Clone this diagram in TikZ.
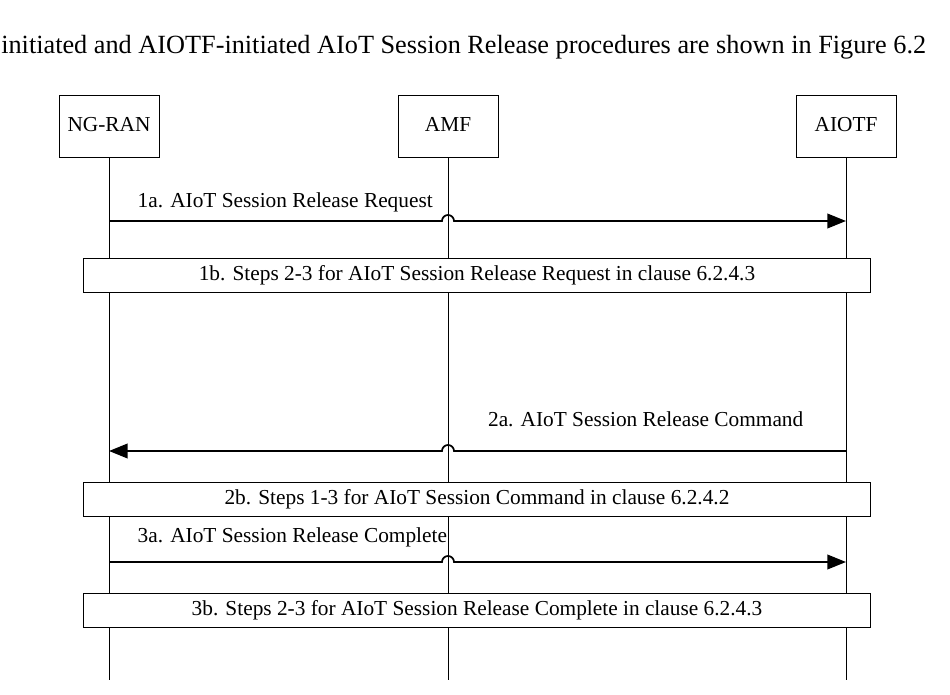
\documentclass[tikz,border=0pt]{standalone}
\usepackage{fontspec}
\setmainfont{Liberation Serif}
\usetikzlibrary{positioning, arrows.meta}
\tikzset{x=0.75pt, y=-0.75pt,
         entity/.style={draw, minimum width=75pt, minimum height=46.5pt, text height=11pt, text depth=3pt, font=\fontsize{16}{18}\selectfont},
         procbox/.style={draw, fill=white, minimum width=590pt, minimum height=25.5pt, font=\fontsize{16}{18}\selectfont},
         life/.style={line width=0.5pt},
         msg/.style={line width=1.3pt, -{Triangle[length=14pt, width=11pt]}},
         lbl/.style={font=\fontsize{16}{18}\selectfont},
         }

\begin{document}
\begin{tikzpicture}
    \useasboundingbox (0,0) rectangle (950,695);
    \node[anchor=west, inner sep=0pt, font=\fontsize{19.7}{22}\selectfont] (intro) at (1,47) {initiated and AIOTF-initiated AIoT Session Release procedures are shown in Figure 6.2};

    \node[entity] (ran) at (109,126) {NG-RAN};
    \node[entity] (amf) at (448,126) {AMF};
    \node[entity] (aiotf) at (846,126) {AIOTF};
    \foreach \n in {ran, amf, aiotf}
        \draw[life] (\n.south) -- (\n.south |- 0,680);

    % 1a / 1b
    \coordinate (r1) at (109,221);
    \coordinate (f1) at (846,221);
    \draw[msg] (r1) -- (442,221) arc (180:0:4.5pt) -- (f1);
    \node[lbl, anchor=west] at (133,202) {1a. AIoT Session Release Request};
    \node[procbox] (s1b) at (477,275) {1b. Steps 2-3 for AIoT Session Release Request in clause 6.2.4.3};

    % 2a / 2b
    \coordinate (r2) at (109,451);
    \coordinate (f2) at (846,451);
    \draw[msg] (f2) -- (454,451) arc (0:180:4.5pt) -- (r2);
    \node[lbl, anchor=east] at (808,419) {2a. AIoT Session Release Command};
    \node[procbox] (s2b) at (477,499) {2b. Steps 1-3 for AIoT Session Command in clause 6.2.4.2};

    % 3a / 3b
    \coordinate (r3) at (109,562);
    \coordinate (f3) at (846,562);
    \draw[msg] (r3) -- (442,562) arc (180:0:4.5pt) -- (f3);
    \node[lbl, anchor=west] at (133,537) {3a. AIoT Session Release Complete};
    \node[procbox] (s3b) at (477,610) {3b. Steps 2-3 for AIoT Session Release Complete in clause 6.2.4.3};
\end{tikzpicture}
\end{document}
